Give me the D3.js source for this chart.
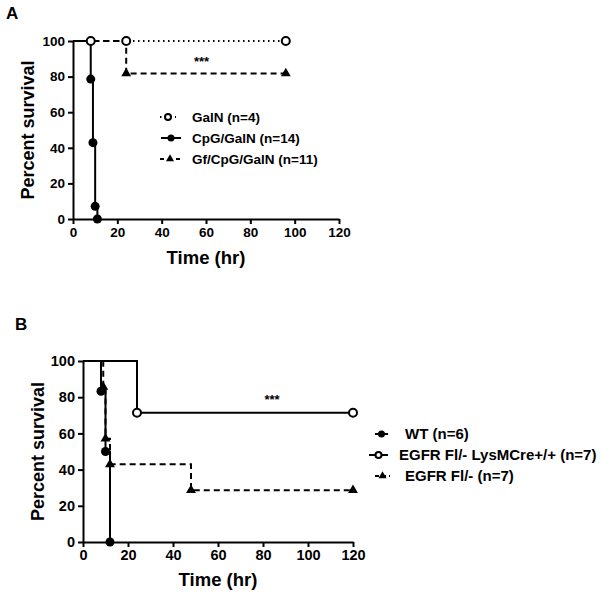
<!DOCTYPE html>
<html><head><meta charset="utf-8">
<script src="https://cdn.jsdelivr.net/npm/d3@7"></script>
<style>body{margin:0;background:#fff}svg{display:block}text{font-family:"Liberation Sans",Arial,sans-serif;font-weight:bold;fill:#000}</style>
</head><body>
<svg id="c" width="602" height="594"></svg>
<script>
const xTicks = [0,20,40,60,80,100,120];
const yTicks = [0,20,40,60,80,100];
// Panel A
const galnT = [8,24,96], galnV = [100,100,100];
const cpgT = [8,9,10,11], cpgV = [78.6,42.9,7.1,0];
const gfT = [24,96], gfV = [81.8,81.8];
// Panel B
const wtT = [8,10,12], wtV = [83.3,50,0];
const lysT = [24,120], lysV = [71.4,71.4];
const flT = [9,10,12,48,120], flV = [85.7,57.1,42.9,28.6,28.6];

const svg = d3.select("#c");

function panel(cfg){
  const g = svg.append("g");
  const x = d3.scaleLinear().domain([0,120]).range([cfg.x0,cfg.x1]);
  const y = d3.scaleLinear().domain([0,100]).range([cfg.y0,cfg.y1]);
  const xa = g.append("g").attr("transform",`translate(0,${cfg.y0})`)
    .call(d3.axisBottom(x).tickValues(xTicks).tickSize(5).tickSizeOuter(0).tickPadding(3));
  const ya = g.append("g").attr("transform",`translate(${cfg.x0},0)`)
    .call(d3.axisLeft(y).tickValues(yTicks).tickSize(5).tickSizeOuter(0).tickPadding(3));
  [xa,ya].forEach(a=>{a.selectAll("path,line").attr("stroke","#000").attr("stroke-width",2);
    a.selectAll("text").attr("font-size",cfg.tickFs).attr("font-weight","bold").attr("font-family","Liberation Sans, Arial, sans-serif");});
  const line = d3.line().x(d=>x(d[0])).y(d=>y(d[1])).curve(d3.curveStepAfter);
  cfg.series.forEach(s=>{
    const pts = [[0,100]].concat(s.t.map((t,i)=>[t,s.v[i]]));
    g.append("path").attr("d",line(pts)).attr("fill","none").attr("stroke","#000")
      .attr("stroke-width",2).attr("stroke-dasharray",s.dash||null);
  });
  cfg.series.forEach(s=>{
    s.t.forEach((t,i)=>sym(g,s.sym,x(t),y(s.v[i])));
  });
  g.append("text").attr("x",x(cfg.starX)).attr("y",y(cfg.starY)).attr("text-anchor","middle").attr("font-size",13).text("***");
  g.append("text").attr("transform",`translate(${cfg.ylabX},${(cfg.y0+cfg.y1)/2}) rotate(-90)`)
    .attr("text-anchor","middle").attr("font-size",18).text("Percent survival");
  g.append("text").attr("x",(cfg.x0+cfg.x1)/2).attr("y",cfg.xlabY).attr("text-anchor","middle").attr("font-size",18.5).text("Time (hr)");
  cfg.legend.forEach((l,i)=>{
    const ly = cfg.legY + i*21;
    g.append("line").attr("x1",l.lx1).attr("x2",l.lx2).attr("y1",ly).attr("y2",ly)
      .attr("stroke","#000").attr("stroke-width",2).attr("stroke-dasharray",l.dash||null);
    sym(g,l.sym,(l.lx1+l.lx2)/2,ly,l.small);
    g.append("text").attr("x",l.tx).attr("y",ly+5).attr("font-size",cfg.legFs).text(l.label);
  });
  g.append("text").attr("x",cfg.pl[0]).attr("y",cfg.pl[1]).attr("font-size",17).text(cfg.plabel);
}
function sym(g,type,cx,cy,small){
  const r = small?3:4;
  if(type==="open") g.append("circle").attr("cx",cx).attr("cy",cy).attr("r",r).attr("fill","#fff").attr("stroke","#000").attr("stroke-width",2);
  else if(type==="filled") g.append("circle").attr("cx",cx).attr("cy",cy).attr("r",r+0.5).attr("fill","#000");
  else g.append("path").attr("d",d3.symbol(d3.symbolTriangle,small?28:42)()).attr("transform",`translate(${cx},${cy})`).attr("fill","#000");
}

panel({x0:73,x1:339,y0:219,y1:41,plabel:"A",pl:[6,19],ylabX:34,xlabY:264,starX:58,starY:86,tickFs:13.5,legFs:13.5,
  series:[
    {t:galnT,v:galnV,sym:"open",dash:"1.5,3.5"},
    {t:cpgT,v:cpgV,sym:"filled"},
    {t:gfT,v:gfV,sym:"tri",dash:"6,4"}
  ],
  legY:117,
  legend:[
    {label:"GalN (n=4)",sym:"open",dash:"1.5,3.5",lx1:160,lx2:176,tx:192,small:true},
    {label:"CpG/GalN (n=14)",sym:"filled",lx1:161,lx2:181,tx:192,small:true},
    {label:"Gf/CpG/GalN (n=11)",sym:"tri",dash:"4,4",lx1:160,lx2:180,tx:192,small:true}
  ]});

panel({x0:83,x1:353,y0:542,y1:361,plabel:"B",pl:[15,330],ylabX:44,xlabY:586,starX:84,starY:76,tickFs:14.5,legFs:15,
  series:[
    {t:wtT,v:wtV,sym:"filled"},
    {t:lysT,v:lysV,sym:"open"},
    {t:flT,v:flV,sym:"tri",dash:"6,4"}
  ],
  legY:434,
  legend:[
    {label:"WT (n=6)",sym:"filled",lx1:375,lx2:388,tx:405,small:true},
    {label:"EGFR Fl/- LysMCre+/+ (n=7)",sym:"open",lx1:369,lx2:388,tx:399,small:true},
    {label:"EGFR Fl/- (n=7)",sym:"tri",dash:"4,3",lx1:375,lx2:390,tx:405,small:true}
  ]});
</script>
</body></html>
